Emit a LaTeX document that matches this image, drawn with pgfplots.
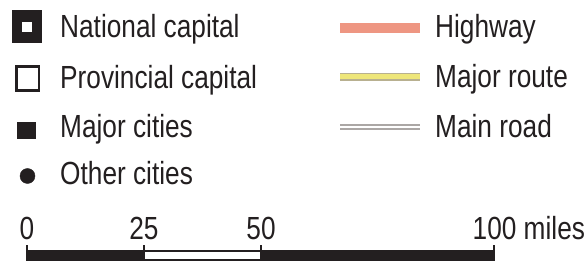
\documentclass[border=0pt]{standalone}
\usepackage{fontspec}
\setmainfont[FakeStretch=0.82]{Liberation Sans}
\usepackage{pgfplots}
\pgfplotsset{compat=1.18}
\definecolor{ink}{HTML}{231F20}
\definecolor{hwy}{HTML}{EE9682}
\definecolor{routey}{HTML}{EEE67A}
\definecolor{routee}{HTML}{B8B090}
\definecolor{roadg}{HTML}{ABA7A5}
\begin{document}
\begin{tikzpicture}
\begin{axis}[width=588pt, height=264pt, scale only axis,
  xmin=0, xmax=588, ymin=0, ymax=264, y dir=reverse,
  hide axis, clip=false]
\path (rel axis cs:0,0) rectangle (rel axis cs:1,1);
% National capital
\addplot[fill=ink, draw=none] coordinates {(12,10) (42,10) (42,43) (12,43)} -- cycle;
\addplot[fill=white, draw=none] coordinates {(22,22) (32,22) (32,32) (22,32)} -- cycle;
% Provincial capital
\addplot[draw=ink, line width=2.2pt, fill=white] coordinates {(16.5,66.5) (39,66.5) (39,90.5) (16.5,90.5)} -- cycle;
% Major cities
\addplot[fill=ink, draw=none] coordinates {(17,122) (36,122) (36,139) (17,139)} -- cycle;
% Other cities
\addplot[only marks, mark=*, mark size=7.5pt, mark options={fill=ink, draw=ink}] coordinates {(27.5,176)};
% Highway
\addplot[hwy, line width=10pt] coordinates {(340,28) (420,28)};
% Major route
\addplot[routee, line width=8pt] coordinates {(340,77) (420,77)};
\addplot[routey, line width=5pt] coordinates {(340,77) (420,77)};
% Main road
\addplot[roadg, line width=6pt] coordinates {(340,127) (420,127)};
\addplot[white, line width=2.2pt] coordinates {(340,127) (420,127)};
% Scale bar
\addplot[fill=ink, draw=none] coordinates {(26,250) (144,250) (144,261) (26,261)} -- cycle;
\addplot[fill=white, draw=ink, line width=1.6pt] coordinates {(144,250.8) (261,250.8) (261,260.2) (144,260.2)} -- cycle;
\addplot[fill=ink, draw=none] coordinates {(261,250) (495,250) (495,261) (261,261)} -- cycle;
\addplot[ink, line width=2pt] coordinates {(27,245) (27,255)};
\addplot[ink, line width=2pt] coordinates {(144,245) (144,255)};
\addplot[ink, line width=2pt] coordinates {(261,245) (261,255)};
\addplot[ink, line width=2pt] coordinates {(494,245) (494,255)};
% Labels
\begin{scope}[every node/.style={inner sep=0pt, text=ink, font=\fontsize{32}{38}\selectfont}]
\node[anchor=base west] at (axis cs:60,38) {National capital};
\node[anchor=base west] at (axis cs:60,89) {Provincial capital};
\node[anchor=base west] at (axis cs:60,138) {Major cities};
\node[anchor=base west] at (axis cs:60,185) {Other cities};
\node[anchor=base west] at (axis cs:435,38) {Highway};
\node[anchor=base west] at (axis cs:435,88) {Major route};
\node[anchor=base west] at (axis cs:435,138) {Main road};
\node[anchor=base] at (axis cs:27,240) {0};
\node[anchor=base] at (axis cs:144,240) {25};
\node[anchor=base] at (axis cs:261,240) {50};
\node[anchor=base west] at (axis cs:472.5,240) {100 miles};
\end{scope}
\end{axis}
\end{tikzpicture}
\end{document}
